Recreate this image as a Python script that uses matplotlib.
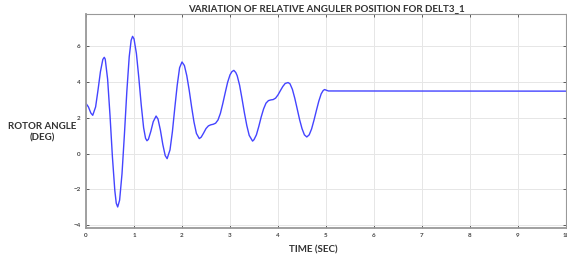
import matplotlib
matplotlib.use('Agg')
import matplotlib.pyplot as plt

# values (time in s, rotor angle in deg)
time_sec = [0, 0.05, 0.10, 0.14, 0.20, 0.25, 0.30, 0.35, 0.38, 0.40, 0.45, 0.50, 0.55,
            0.60, 0.63, 0.66, 0.70, 0.75, 0.80, 0.85, 0.90, 0.94, 0.97, 1.00, 1.05, 1.10,
            1.15, 1.20, 1.24, 1.27, 1.30, 1.35, 1.40, 1.46, 1.50, 1.55, 1.60, 1.65, 1.69,
            1.75, 1.80, 1.85, 1.90, 1.95, 2.00, 2.05, 2.10, 2.15, 2.20, 2.25, 2.30, 2.36,
            2.40, 2.45, 2.50, 2.55, 2.60, 2.65, 2.70, 2.75, 2.80, 2.85, 2.90, 2.95, 3.00,
            3.04, 3.08, 3.12, 3.15, 3.20, 3.25, 3.30, 3.35, 3.40, 3.47, 3.50, 3.55, 3.60,
            3.65, 3.70, 3.75, 3.80, 3.85, 3.90, 3.95, 4.00, 4.05, 4.10, 4.15, 4.21, 4.25,
            4.30, 4.35, 4.40, 4.45, 4.50, 4.55, 4.60, 4.65, 4.70, 4.75, 4.80, 4.85, 4.90,
            4.94, 4.97, 5.01, 5.05, 10.0]
rotor_angle = [2.80, 2.61, 2.27, 2.14, 2.61, 3.55, 4.57, 5.26, 5.38, 5.28, 4.16, 2.13, -0.18,
               -2.06, -2.77, -2.98, -2.60, -1.12, 1.07, 3.45, 5.41, 6.33, 6.55, 6.41, 5.59, 4.24,
               2.73, 1.45, 0.86, 0.72, 0.80, 1.24, 1.78, 2.10, 1.93, 1.31, 0.51, -0.11, -0.28,
               0.21, 1.23, 2.56, 3.82, 4.80, 5.12, 4.92, 4.35, 3.54, 2.61, 1.76, 1.13, 0.84,
               0.92, 1.15, 1.40, 1.55, 1.61, 1.64, 1.70, 1.88, 2.25, 2.80, 3.40, 3.98, 4.40,
               4.58, 4.65, 4.53, 4.35, 3.82, 3.07, 2.28, 1.57, 1.02, 0.70, 0.78, 1.05, 1.52,
               2.05, 2.50, 2.82, 2.96, 3.00, 3.02, 3.10, 3.28, 3.52, 3.75, 3.92, 3.97, 3.90,
               3.59, 3.09, 2.50, 1.90, 1.40, 1.05, 0.93, 1.05, 1.38, 1.87, 2.41, 2.93, 3.34,
               3.52, 3.58, 3.54, 3.50, 3.49]

x_ticks = [0, 1, 2, 3, 4, 5, 6, 7, 8, 9, 10]
y_ticks = [-4, -2, 0, 2, 4, 6]

plt.rcParams['font.family'] = ['Lato', 'DejaVu Sans']

fig = plt.figure(figsize=(5.67, 2.59), dpi=100)
ax = fig.add_axes([0.1517, 0.12, 0.8465, 0.826])

ax.plot(time_sec, rotor_angle, color='#4444ff', linewidth=1.0)

ax.set_xlim(0, 10)
ax.set_ylim(-4.15, 7.8)
ax.set_xticks(x_ticks)
ax.set_yticks(y_ticks)
ax.tick_params(direction='in', length=2.5, width=0.6, labelsize=4.5, colors='#444444',
               top=True, right=True, pad=4)
for lbl in ax.get_xticklabels() + ax.get_yticklabels():
    lbl.set_fontweight('bold')
ax.grid(True, color='#e6e6e6', linewidth=0.7)
for s in ax.spines.values():
    s.set_color('#999999')
    s.set_linewidth(0.8)
ax.spines['left'].set_linewidth(1.3)
ax.spines['bottom'].set_linewidth(1.3)

ax.set_title('VARIATION OF RELATIVE ANGULER POSITION FOR DELT3_1', fontsize=7,
             color='#333333', fontweight='bold', pad=2)
fig.text(0.553, 0.025, 'TIME (SEC)', fontsize=7, color='#333333', ha='center',
         fontweight='bold')
fig.text(0.075, 0.49, 'ROTOR ANGLE\n(DEG)', fontsize=7, color='#333333',
         ha='center', va='center', linespacing=1.4, fontweight='bold')

fig.savefig('out.png', dpi=100)
